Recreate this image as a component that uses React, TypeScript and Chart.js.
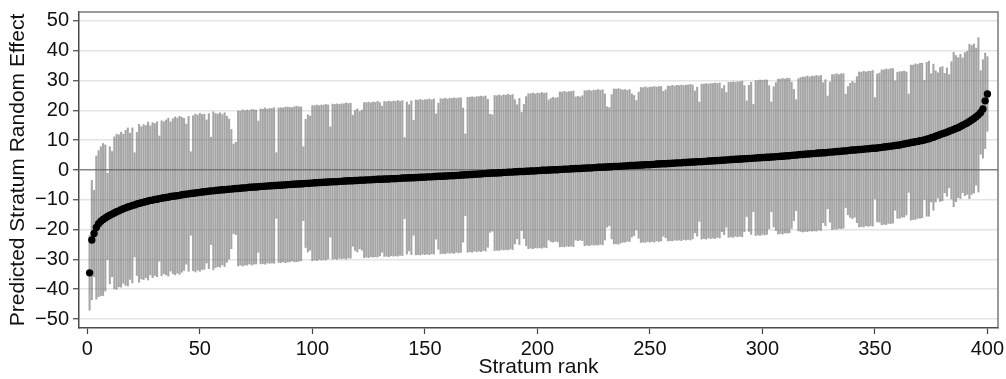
import React, { useEffect, useRef } from 'react';
import { Chart, registerables } from 'chart.js';

Chart.register(...registerables);

// Predicted stratum random effects, sorted by rank (1..400)
const estimates: number[] = [
  -34.5, -23.5, -21.3, -19.3, -18.0, -17.2, -16.6, -16.1, -15.6, -15.2,
  -14.8, -14.4, -14.0, -13.7, -13.3, -13.0, -12.7, -12.4, -12.2, -11.9,
  -11.7, -11.4, -11.2, -11.0, -10.8, -10.6, -10.4, -10.2, -10.1, -9.9,
  -9.8, -9.6, -9.5, -9.3, -9.2, -9.1, -8.9, -8.8, -8.7, -8.6,
  -8.5, -8.3, -8.2, -8.1, -8.0, -7.9, -7.8, -7.7, -7.6, -7.5,
  -7.4, -7.3, -7.2, -7.1, -7.0, -7.0, -6.9, -6.8, -6.7, -6.6,
  -6.6, -6.5, -6.4, -6.4, -6.3, -6.2, -6.2, -6.1, -6.0, -6.0,
  -5.9, -5.8, -5.8, -5.7, -5.7, -5.6, -5.5, -5.5, -5.4, -5.4,
  -5.3, -5.3, -5.2, -5.2, -5.1, -5.1, -5.0, -5.0, -4.9, -4.9,
  -4.8, -4.8, -4.7, -4.7, -4.6, -4.6, -4.5, -4.5, -4.4, -4.4,
  -4.3, -4.3, -4.2, -4.2, -4.1, -4.1, -4.0, -4.0, -3.9, -3.9,
  -3.9, -3.8, -3.8, -3.7, -3.7, -3.6, -3.6, -3.6, -3.5, -3.5,
  -3.4, -3.4, -3.4, -3.3, -3.3, -3.3, -3.2, -3.2, -3.1, -3.1,
  -3.1, -3.0, -3.0, -3.0, -2.9, -2.9, -2.9, -2.8, -2.8, -2.7,
  -2.7, -2.7, -2.6, -2.6, -2.6, -2.5, -2.5, -2.4, -2.4, -2.4,
  -2.3, -2.3, -2.3, -2.2, -2.2, -2.1, -2.1, -2.1, -2.0, -2.0,
  -1.9, -1.9, -1.9, -1.8, -1.8, -1.7, -1.7, -1.6, -1.6, -1.5,
  -1.5, -1.4, -1.4, -1.3, -1.3, -1.2, -1.2, -1.1, -1.1, -1.0,
  -1.0, -1.0, -0.9, -0.9, -0.8, -0.8, -0.7, -0.7, -0.7, -0.6,
  -0.6, -0.5, -0.5, -0.5, -0.4, -0.4, -0.3, -0.3, -0.3, -0.2,
  -0.2, -0.1, -0.1, -0.1, 0.0, 0.0, 0.1, 0.1, 0.1, 0.2,
  0.2, 0.3, 0.3, 0.3, 0.4, 0.4, 0.5, 0.5, 0.5, 0.6,
  0.6, 0.7, 0.7, 0.7, 0.8, 0.8, 0.9, 0.9, 0.9, 1.0,
  1.0, 1.1, 1.1, 1.2, 1.2, 1.2, 1.3, 1.3, 1.4, 1.4,
  1.5, 1.5, 1.5, 1.6, 1.6, 1.7, 1.7, 1.8, 1.8, 1.8,
  1.9, 1.9, 2.0, 2.0, 2.1, 2.1, 2.1, 2.2, 2.2, 2.3,
  2.3, 2.4, 2.4, 2.4, 2.5, 2.5, 2.6, 2.6, 2.7, 2.7,
  2.8, 2.8, 2.8, 2.9, 2.9, 3.0, 3.0, 3.1, 3.1, 3.2,
  3.2, 3.3, 3.3, 3.4, 3.4, 3.5, 3.5, 3.6, 3.6, 3.7,
  3.7, 3.8, 3.8, 3.9, 3.9, 4.0, 4.0, 4.1, 4.1, 4.2,
  4.2, 4.3, 4.3, 4.4, 4.4, 4.5, 4.5, 4.6, 4.6, 4.7,
  4.8, 4.8, 4.9, 5.0, 5.0, 5.1, 5.2, 5.2, 5.3, 5.4,
  5.4, 5.5, 5.5, 5.6, 5.7, 5.7, 5.8, 5.8, 5.9, 6.0,
  6.0, 6.1, 6.2, 6.2, 6.3, 6.4, 6.4, 6.5, 6.6, 6.7,
  6.7, 6.8, 6.9, 6.9, 7.0, 7.1, 7.1, 7.2, 7.3, 7.3,
  7.4, 7.5, 7.6, 7.7, 7.8, 7.9, 8.0, 8.1, 8.2, 8.3,
  8.4, 8.6, 8.7, 8.9, 9.0, 9.2, 9.3, 9.5, 9.6, 9.8,
  9.9, 10.1, 10.3, 10.5, 10.8, 11.0, 11.3, 11.6, 11.9, 12.2,
  12.4, 12.7, 13.0, 13.3, 13.6, 13.9, 14.2, 14.6, 15.0, 15.4,
  15.8, 16.3, 16.8, 17.3, 17.9, 18.5, 19.3, 20.5, 23.2, 25.5,
];

// Half-width of each stratum's confidence interval
const halfWidths: number[] = [
  12.5, 20.0, 14.5, 24.0, 24.5, 25.0, 25.5, 24.5, 14.5, 23.0,
  21.0, 25.5, 26.0, 25.5, 26.0, 25.0, 26.0, 26.5, 24.5, 26.0,
  17.5, 24.0, 26.5, 25.5, 26.0, 25.5, 26.5, 25.0, 26.0, 25.5,
  26.0, 21.0, 26.0, 25.5, 26.0, 26.5, 25.0, 26.0, 26.5, 26.0,
  26.5, 26.0, 25.5, 23.5, 26.0, 14.0, 26.0, 26.5, 26.0, 26.5,
  26.0, 26.0, 24.0, 26.0, 18.0, 26.5, 25.8, 25.6, 25.9, 25.2,
  25.8, 24.5, 23.5, 20.0, 15.0, 15.5, 26.0, 25.8, 26.2, 25.9,
  26.0, 25.7, 26.1, 25.9, 25.8, 22.0, 26.0, 25.9, 26.2, 25.8,
  26.0, 25.9, 26.1, 11.0, 25.9, 26.0, 25.8, 26.1, 26.0, 25.9,
  25.7, 26.0, 26.1, 25.9, 25.8, 12.4, 21.5, 23.0, 22.5, 26.0,
  25.9, 26.1, 25.8, 26.0, 25.9, 26.1, 25.8, 18.5, 26.0, 25.9,
  26.1, 25.8, 26.0, 25.9, 26.2, 25.9, 26.0, 22.0, 23.5, 24.0,
  23.0, 23.5, 26.0, 25.9, 26.1, 25.8, 26.0, 25.9, 26.1, 25.7,
  24.5, 26.0, 25.9, 26.1, 25.8, 26.0, 25.9, 26.1, 25.8, 26.0,
  13.6, 25.5, 24.5, 25.8, 19.3, 26.0, 25.9, 26.1, 25.8, 26.0,
  25.9, 26.1, 25.8, 26.0, 21.0, 24.5, 26.0, 25.9, 26.1, 25.8,
  26.0, 25.9, 26.1, 25.8, 26.0, 25.9, 22.5, 13.7, 26.0, 25.9,
  26.1, 25.8, 26.0, 25.9, 26.1, 25.8, 26.0, 24.8, 19.8, 19.5,
  26.0, 25.9, 26.1, 25.8, 26.0, 25.9, 26.1, 25.8, 26.0, 24.2,
  22.5, 24.5, 19.8, 22.5, 25.0, 26.0, 25.9, 26.1, 25.8, 26.0,
  25.9, 26.1, 25.8, 26.0, 23.5, 24.0, 24.3, 24.0, 24.2, 26.0,
  25.9, 26.1, 25.8, 26.0, 25.9, 26.1, 24.0, 24.2, 24.0, 24.3,
  26.0, 25.9, 26.1, 25.8, 26.0, 25.9, 26.1, 25.8, 26.0, 24.5,
  20.2, 19.8, 24.2, 26.0, 25.9, 26.1, 25.8, 25.5, 25.6, 25.3,
  25.5, 24.0, 23.5, 21.7, 24.5, 26.0, 25.9, 26.1, 25.8, 26.0,
  25.9, 26.1, 25.8, 26.0, 25.9, 24.3, 24.8, 26.0, 25.9, 26.1,
  25.8, 26.0, 25.9, 26.1, 25.8, 26.0, 25.9, 26.1, 25.8, 23.8,
  25.0, 20.0, 26.0, 25.9, 26.1, 25.8, 26.0, 25.9, 26.1, 25.8,
  26.0, 24.0, 25.0, 22.6, 26.0, 25.9, 26.1, 25.8, 26.0, 25.9,
  26.1, 24.5, 19.4, 24.5, 25.5, 18.0, 26.0, 25.9, 26.1, 25.8,
  26.0, 25.9, 24.0, 18.4, 23.5, 24.8, 26.0, 25.9, 26.1, 25.8,
  26.0, 25.9, 24.5, 22.0, 18.6, 25.5, 25.8, 26.0, 25.9, 26.1,
  25.8, 26.0, 25.9, 26.1, 25.8, 26.0, 23.5, 24.5, 18.9, 23.5,
  26.0, 25.9, 26.1, 25.8, 26.0, 25.9, 19.0, 21.5, 22.5, 23.0,
  22.5, 24.5, 26.0, 25.9, 26.1, 25.8, 26.0, 25.9, 26.1, 17.0,
  24.8, 25.0, 26.0, 25.9, 26.1, 25.8, 26.0, 25.9, 21.7, 24.5,
  24.6, 24.4, 24.5, 24.0, 16.5, 26.0, 25.9, 26.1, 25.8, 26.0,
  25.9, 20.0, 25.8, 26.0, 21.5, 24.5, 22.0, 21.0, 22.5, 22.5,
  20.0, 21.5, 19.0, 23.0, 25.9, 24.5, 23.5, 24.2, 22.6, 24.0,
  24.0, 25.9, 25.0, 25.0, 23.0, 25.9, 14.0, 16.5, 16.0, 12.5,
];

const xTickValues: number[] = [0, 50, 100, 150, 200, 250, 300, 350, 400];
const yTickValues: number[] = [-50, -40, -30, -20, -10, 0, 10, 20, 30, 40, 50];

const xTitle = 'Stratum rank';
const yTitle = 'Predicted Stratum Random Effect';

const FONT = "'Liberation Sans', Arial, Helvetica, sans-serif";

const framePlugin = {
  id: 'frameLines',
  afterDraw(chart: any) {
    const { ctx, chartArea: a } = chart;
    ctx.save();
    ctx.strokeStyle = '#7a7a7a';
    ctx.lineWidth = 1.5;
    ctx.beginPath();
    ctx.moveTo(a.left, a.top);
    ctx.lineTo(a.right, a.top);
    ctx.lineTo(a.right, a.bottom);
    ctx.stroke();
    ctx.restore();
  },
};

export default function App() {
  const canvasRef = useRef<HTMLCanvasElement | null>(null);

  useEffect(() => {
    if (!canvasRef.current) return;
    const ranks = estimates.map((_, i) => i + 1);
    const pointData = ranks.map((r, i) => ({ x: r, y: estimates[i] }));
    const barData = ranks.map((r, i) => ({
      x: r,
      y: [estimates[i] - halfWidths[i], estimates[i] + halfWidths[i]],
    }));

    const chart = new Chart(canvasRef.current, {
      type: 'bar',
      data: {
        datasets: [
          {
            type: 'scatter',
            data: pointData,
            pointRadius: 3.7,
            pointBackgroundColor: '#000000',
            pointBorderWidth: 0,
            borderColor: '#000000',
            backgroundColor: '#000000',
            order: 0,
          } as any,
          {
            type: 'bar',
            data: barData as any,
            backgroundColor: 'rgba(105,105,105,0.6)',
            borderWidth: 0,
            barThickness: 1.4,
            grouped: false,
            order: 1,
          } as any,
        ],
      },
      options: {
        animation: false,
        responsive: false,
        maintainAspectRatio: false,
        events: [],
        layout: { padding: { left: 0, right: 8, top: 12, bottom: 0 } },
        plugins: {
          legend: { display: false },
          tooltip: { enabled: false },
        },
        scales: {
          x: {
            type: 'linear',
            min: -3.7,
            max: 404.7,
            offset: false,
            afterBuildTicks: (s: any) => {
              s.ticks = xTickValues.map((v) => ({ value: v }));
            },
            afterFit: (s: any) => {
              s.height = 51;
              s.paddingLeft = 0;
              s.paddingRight = 0;
            },
            grid: {
              display: true,
              drawOnChartArea: false,
              drawTicks: true,
              tickLength: 6,
              tickColor: '#444444',
              tickWidth: 1.2,
              offset: false,
            },
            border: { display: true, color: '#4a4a4a', width: 1.5 },
            ticks: {
              color: '#111111',
              font: { family: FONT, size: 20 },
              padding: 3,
              maxRotation: 0,
              autoSkip: false,
            },
            title: {
              display: true,
              text: xTitle,
              color: '#111111',
              font: { family: FONT, size: 21 },
              padding: { top: 0, bottom: -1 },
            },
          },
          y: {
            type: 'linear',
            min: -53,
            max: 53,
            afterBuildTicks: (s: any) => {
              s.ticks = yTickValues.map((v) => ({ value: v }));
            },
            afterFit: (s: any) => {
              s.width = 79;
              s.paddingTop = 0;
              s.paddingBottom = 0;
            },
            grid: {
              display: true,
              drawOnChartArea: true,
              drawTicks: true,
              tickLength: 6,
              tickColor: '#444444',
              tickWidth: 1.2,
              color: (c: any) => (c.tick && c.tick.value === 0 ? '#858585' : '#e4e4e4'),
              lineWidth: 1.5,
            },
            border: { display: true, color: '#4a4a4a', width: 1.5 },
            ticks: {
              color: '#111111',
              font: { family: FONT, size: 20 },
              padding: 4,
              autoSkip: false,
              callback: (v: any) => String(v).replace('-', '\u2212'),
            },
            title: {
              display: true,
              text: yTitle,
              color: '#111111',
              font: { family: FONT, size: 21 },
              padding: { top: 6, bottom: 0 },
            },
          },
        },
      },
      plugins: [framePlugin],
    });

    return () => chart.destroy();
  }, []);

  return (
    <div style={{ position: 'absolute', left: 0, top: 0, width: 1006, height: 379, background: '#ffffff' }}>
      <canvas ref={canvasRef} width={1006} height={379} style={{ display: 'block' }} />
    </div>
  );
}
